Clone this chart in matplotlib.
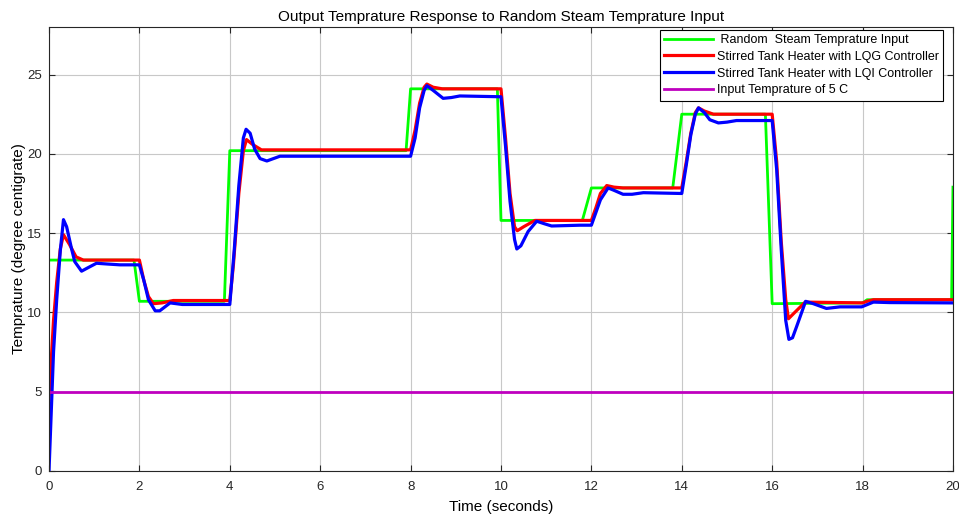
import numpy as np
import matplotlib
matplotlib.use("Agg")
import matplotlib.pyplot as plt

plt.rcParams['font.family'] = ['Liberation Sans', 'DejaVu Sans']

# Entrada: temperatura del vapor (escalones aleatorios)
t_input = [0, 1.88, 2.0, 3.88, 4.0, 7.9, 8.0, 9.92, 10.0, 11.8, 12.0, 13.8, 14.0,
           15.85, 16.0, 18.0, 18.1, 19.97, 20.0]
y_input = [13.3, 13.3, 10.7, 10.7, 20.2, 20.2, 24.1, 24.1, 15.8, 15.8, 17.85, 17.85,
           22.5, 22.5, 10.55, 10.6, 10.8, 10.8, 17.9]

# Respuesta con controlador LQG
t_lqg = [0, 0.1, 0.17, 0.25, 0.32, 0.45, 0.6, 0.76, 2.0,
         2.1, 2.2, 2.31, 2.5, 2.75, 4.0,
         4.08, 4.2, 4.3, 4.37, 4.5, 4.7, 8.0,
         8.1, 8.2, 8.3, 8.36, 8.5, 8.7, 10.0,
         10.1, 10.2, 10.3, 10.36, 10.5, 10.75, 12.0,
         12.1, 12.2, 12.34, 12.5, 12.7, 14.0,
         14.1, 14.2, 14.3, 14.37, 14.5, 14.7, 16.0,
         16.1, 16.2, 16.3, 16.36, 16.5, 16.73, 18.0, 18.1, 18.24, 20.0]
y_lqg = [4.5, 9.5, 11.9, 14.0, 14.9, 14.3, 13.5, 13.3, 13.3,
         12.0, 11.0, 10.55, 10.6, 10.75, 10.75,
         13.0, 17.5, 20.2, 20.9, 20.6, 20.25, 20.25,
         21.5, 23.2, 24.2, 24.4, 24.2, 24.1, 24.1,
         21.0, 17.5, 15.4, 15.15, 15.4, 15.8, 15.8,
         16.6, 17.5, 18.0, 17.9, 17.85, 17.85,
         19.5, 21.3, 22.6, 22.9, 22.7, 22.5, 22.5,
         19.5, 14.5, 10.8, 9.6, 10.0, 10.65, 10.6, 10.7, 10.8, 10.8]

# Respuesta con controlador LQI
t_lqi = [0, 0.1, 0.17, 0.25, 0.32, 0.39, 0.5, 0.57, 0.72, 0.85, 1.05, 1.3, 1.57, 2.0,
         2.1, 2.2, 2.35, 2.45, 2.68, 2.95, 4.0,
         4.1, 4.2, 4.3, 4.36, 4.45, 4.55, 4.67, 4.82, 5.11, 5.55, 8.0,
         8.1, 8.2, 8.3, 8.36, 8.5, 8.72, 8.9, 9.09, 10.0,
         10.1, 10.2, 10.3, 10.35, 10.44, 10.6, 10.79, 10.95, 11.12, 11.75, 12.0,
         12.1, 12.2, 12.37, 12.5, 12.7, 12.9, 13.15, 14.0,
         14.1, 14.2, 14.3, 14.37, 14.5, 14.62, 14.81, 15.0, 15.21, 16.0,
         16.1, 16.2, 16.3, 16.37, 16.45, 16.54, 16.74, 16.91, 17.2, 17.5, 17.98,
         18.24, 18.6, 20.0]
y_lqi = [0, 7.5, 10.8, 13.9, 15.85, 15.4, 14.0, 13.2, 12.6, 12.8, 13.1, 13.05, 13.0, 13.0,
         12.0, 10.8, 10.1, 10.1, 10.6, 10.5, 10.5,
         14.0, 18.0, 21.0, 21.55, 21.3, 20.3, 19.7, 19.55, 19.85, 19.85, 19.85,
         21.0, 22.9, 24.0, 24.3, 24.0, 23.5, 23.55, 23.65, 23.6,
         20.5, 17.0, 14.6, 14.0, 14.2, 15.1, 15.75, 15.6, 15.45, 15.5, 15.5,
         16.3, 17.1, 17.85, 17.7, 17.45, 17.45, 17.55, 17.5,
         19.3, 21.2, 22.5, 22.9, 22.6, 22.15, 21.95, 22.0, 22.1, 22.1,
         19.0, 14.0, 9.5, 8.3, 8.4, 9.1, 10.7, 10.55, 10.25, 10.35, 10.35,
         10.65, 10.62, 10.6]

# Temperatura de entrada constante
t_const = [0, 20]
y_const = [5, 5]

fig = plt.figure(figsize=(9.59, 5.14), dpi=100)
ax = fig.add_axes([0.0511, 0.0837, 0.9426, 0.8638])

ax.plot(t_input, y_input, color="#00ff00", lw=2.0, label=" Random  Steam Temprature Input")
ax.plot(t_lqg, y_lqg, color="#ff0000", lw=2.3, label="Stirred Tank Heater with LQG Controller")
ax.plot(t_lqi, y_lqi, color="#0000ff", lw=2.3, label="Stirred Tank Heater with LQI Controller")
ax.plot(t_const, y_const, color="#bf00bf", lw=2.0, label="Input Temprature of 5 C")

ax.set_xlim(0, 20)
ax.set_ylim(0, 28)
ax.set_xticks(np.arange(0, 21, 2))
ax.set_yticks(np.arange(0, 26, 5))
ax.grid(True, color="#c8c8c8", lw=0.8)
ax.set_axisbelow(True)
ax.tick_params(direction="in", top=True, right=True, labelsize=9.5, colors="#262626",
               length=4, width=0.8)
ax.tick_params(axis="x", pad=7)
ax.tick_params(axis="y", pad=5)
for s in ax.spines.values():
    s.set_color("#262626")
    s.set_linewidth(0.8)

ax.set_title("Output Temprature Response to Random Steam Temprature Input", fontsize=11, pad=4)
ax.set_xlabel("Time (seconds)", fontsize=11, labelpad=5)
ax.set_ylabel("Temprature (degree centigrate)", fontsize=11, labelpad=1)

leg = ax.legend(loc="upper right", bbox_to_anchor=(0.989, 0.994), borderaxespad=0,
                fontsize=9, fancybox=False, framealpha=1, edgecolor="black",
                handlelength=3.9, labelspacing=0.38, handletextpad=0.3,
                borderpad=0.35)
leg.get_frame().set_linewidth(0.8)

fig.savefig("out.png", dpi=100)
